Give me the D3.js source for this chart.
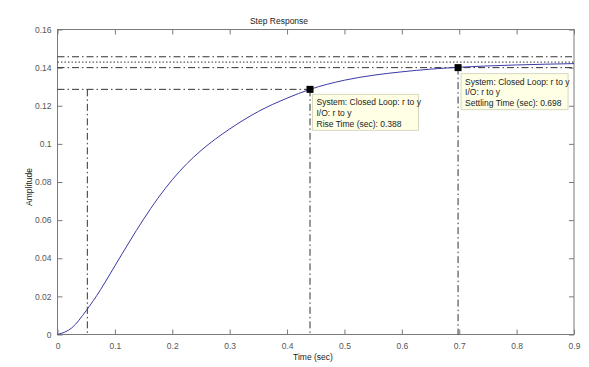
<!DOCTYPE html>
<html>
<head>
<meta charset="utf-8">
<script src="https://cdn.jsdelivr.net/npm/d3@7"></script>
<style>
  body { margin: 0; background: #fff; }
  text { font-family: "Liberation Sans", Arial, sans-serif; }
</style>
</head>
<body>
<svg id="chart" width="589" height="367"></svg>
<script>
// step response samples
var time = [0, 0.025, 0.05, 0.075, 0.1, 0.125, 0.15, 0.175, 0.2, 0.225, 0.25, 0.275, 0.3,
            0.35, 0.4, 0.44, 0.5, 0.55, 0.6, 0.65, 0.7, 0.75, 0.8, 0.85, 0.9];
var amplitude = [0, 0.0035, 0.0125, 0.0235, 0.0360, 0.0485, 0.0605, 0.0715, 0.0812, 0.0895, 0.0965, 0.1025, 0.1078,
                 0.1170, 0.1240, 0.1286, 0.1334, 0.1360, 0.1378, 0.1392, 0.1402, 0.1409, 0.1414, 0.1418, 0.1421];

var xTicks = [0, 0.1, 0.2, 0.3, 0.4, 0.5, 0.6, 0.7, 0.8, 0.9];
var yTicks = [0, 0.02, 0.04, 0.06, 0.08, 0.1, 0.12, 0.14, 0.16];

var finalValue = 0.1429;
var settleBand = [0.1400, 0.1457];
var riseLevel = 0.1286;
var riseStart = 0.052;
var riseEnd = 0.44;
var settleTime = 0.698;

var riseTip = ["System: Closed Loop: r to y", "I/O: r to y", "Rise Time (sec): 0.388"];
var settleTip = ["System: Closed Loop: r to y", "I/O: r to y", "Settling Time (sec): 0.698"];

var svg = d3.select("#chart");
var plotLeft = 57.5, plotRight = 574, plotTop = 29.5, plotBottom = 334.5;

var x = d3.scaleLinear().domain([0, 0.9]).range([plotLeft, plotRight]);
var y = d3.scaleLinear().domain([0, 0.16]).range([plotBottom, plotTop]);

var axisColor = "#7a7a7a", labelColor = "#555";

// frame + ticks
svg.append("rect")
    .attr("x", plotLeft).attr("y", plotTop)
    .attr("width", plotRight - plotLeft).attr("height", plotBottom - plotTop)
    .attr("fill", "#fff").attr("stroke", axisColor).attr("stroke-width", 1);

function styleAxis(g) {
    g.select(".domain").remove();
    g.selectAll(".tick line").attr("stroke", axisColor);
    g.selectAll(".tick text").attr("fill", labelColor).style("font-size", "8.5px");
}

svg.append("g").attr("transform", "translate(0," + plotBottom + ")")
    .call(d3.axisBottom(x).tickValues(xTicks).tickSize(-5).tickPadding(8).tickFormat(d3.format("")))
    .call(styleAxis);
svg.append("g").attr("transform", "translate(0," + plotTop + ")")
    .call(d3.axisTop(x).tickValues(xTicks).tickSize(-5).tickFormat(""))
    .call(styleAxis);
svg.append("g").attr("transform", "translate(" + plotLeft + ",0)")
    .call(d3.axisLeft(y).tickValues(yTicks).tickSize(-5).tickPadding(6).tickFormat(d3.format("")))
    .call(styleAxis);
svg.append("g").attr("transform", "translate(" + plotRight + ",0)")
    .call(d3.axisRight(y).tickValues(yTicks).tickSize(-5).tickFormat(""))
    .call(styleAxis);

// reference lines
var refColor = "#333";
var dashDot = "7,3,1.5,3";
function hline(v, x0, x1, dash) {
    svg.append("line")
        .attr("x1", x(x0)).attr("x2", x(x1))
        .attr("y1", y(v)).attr("y2", y(v))
        .attr("stroke", refColor).attr("stroke-width", 1)
        .attr("stroke-dasharray", dash);
}
function vline(t, v0, v1) {
    svg.append("line")
        .attr("x1", x(t)).attr("x2", x(t))
        .attr("y1", y(v0)).attr("y2", y(v1))
        .attr("stroke", refColor).attr("stroke-width", 1)
        .attr("stroke-dasharray", dashDot);
}
hline(settleBand[1], 0, 0.9, dashDot);
hline(finalValue, 0, 0.9, "1.5,2");
hline(settleBand[0], 0, 0.9, dashDot);
hline(riseLevel, 0, riseEnd, dashDot);
vline(riseStart, riseLevel, 0);
vline(riseEnd, riseLevel, 0);
vline(settleTime, settleBand[0], 0);

// response curve
var pts = time.map(function (t, i) { return [t, amplitude[i]]; });
svg.append("path")
    .attr("d", d3.line().x(function (d) { return x(d[0]); }).y(function (d) { return y(d[1]); })
        .curve(d3.curveMonotoneX)(pts))
    .attr("fill", "none")
    .attr("stroke", "#3a3aa6")
    .attr("stroke-width", 1);

// data tips
function dataTip(t, v, lines, dx, dy, w) {
    svg.append("rect")
        .attr("x", x(t) - 3.5).attr("y", y(v) - 3.5)
        .attr("width", 7).attr("height", 7).attr("fill", "#000");
    var g = svg.append("g").attr("transform", "translate(" + (x(t) + dx) + "," + (y(v) + dy) + ")");
    g.append("rect")
        .attr("width", w).attr("height", 36)
        .attr("fill", "#ffffe6").attr("stroke", "#d8d8c0");
    g.selectAll("text").data(lines).enter().append("text")
        .attr("x", 4).attr("y", function (d, i) { return 11 + i * 10.8; })
        .attr("fill", "#222").style("font-size", "8.5px")
        .text(function (d) { return d; });
}
dataTip(riseEnd, riseLevel, riseTip, 2.5, 5, 106);
dataTip(settleTime, settleBand[0], settleTip, 3, 6, 107);

// labels
svg.append("text").attr("x", 279).attr("y", 24)
    .attr("text-anchor", "middle").attr("fill", "#222").style("font-size", "8.5px")
    .text("Step Response");
svg.append("text").attr("x", 313).attr("y", 360)
    .attr("text-anchor", "middle").attr("fill", "#222").style("font-size", "8.5px")
    .text("Time (sec)");
svg.append("text")
    .attr("transform", "translate(32,187) rotate(-90)")
    .attr("text-anchor", "middle").attr("fill", "#222").style("font-size", "8.5px")
    .text("Amplitude");
</script>
</body>
</html>
